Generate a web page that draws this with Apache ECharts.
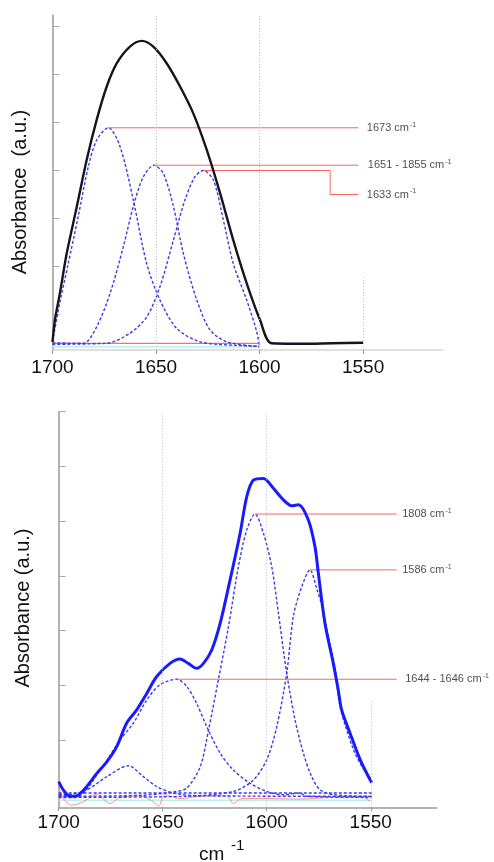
<!DOCTYPE html>
<html>
<head>
<meta charset="utf-8">
<script src="https://cdn.jsdelivr.net/npm/echarts@6/dist/echarts.min.js"></script>
<style>
  html, body { margin: 0; padding: 0; background: #fff; }
  #chart { width: 494px; height: 862px; }
</style>
</head>
<body>
<div id="chart"></div>
<script>
// ---- Upper spectrum (amide I band) : [wavenumber cm-1, absorbance a.u.] ----
const topTotal = [[1700,0.17],[1698.8,0.63],[1696.4,1.19],[1693.1,2.02],[1688.3,2.98],[1683.5,3.96],[1678.7,4.79],[1673.8,5.49],[1669,5.97],[1662.6,6.32],[1656.9,6.44],[1651.3,6.32],[1644.8,5.97],[1638.4,5.49],[1632,4.93],[1625.5,4.17],[1619,3.26],[1612.7,2.29],[1606.2,1.39],[1599.8,0.63],[1594.2,0.14],[1580,0.13],[1565,0.14],[1550,0.15]];
const topBand1673 = [[1700,0.17],[1696.4,1.0],[1692.4,1.8],[1687.5,2.8],[1682.7,3.82],[1678.6,4.38],[1673,4.63],[1667.4,4.24],[1661,3.13],[1654.5,1.8],[1648.1,1.04],[1640,0.45],[1628.7,0.17],[1612.7,0.1],[1600,0.08]];
const topBand1651 = [[1700,0.15],[1685.1,0.14],[1678.6,0.49],[1672.2,1.18],[1665.8,2.15],[1661,2.99],[1656.1,3.61],[1651,3.85],[1646.5,3.68],[1641.6,2.99],[1636.8,2.01],[1630.3,1.04],[1623.9,0.42],[1615.8,0.17],[1600,0.07]];
const topBand1633 = [[1700,0.12],[1673.8,0.14],[1662.6,0.35],[1654.5,0.69],[1648.1,1.32],[1641.6,2.29],[1636,3.13],[1631.2,3.61],[1627.2,3.74],[1622.3,3.54],[1617.5,2.71],[1612.7,1.8],[1606.2,1.04],[1601.5,0.4],[1600,0.07]];
const topBaseRed = [[1700,0.14],[1600,0.14]];
const topBaseCyan = [[1700,0.07],[1600,0.07]];
const topAnnot1673 = [[1673,4.63],[1552.3,4.63]];
const topAnnot1651 = [[1651,3.85],[1552.3,3.85]];
const topAnnot1633 = [[1627.2,3.74],[1565.9,3.74],[1565.9,3.24],[1552.3,3.24]];
const topLabels = ['1673 cm', '1651 - 1855 cm', '1633 cm'];

// ---- Lower spectrum ----
const botTotal = [[1700,0.47],[1697.8,0.32],[1694.6,0.2],[1691.3,0.21],[1686.5,0.38],[1681.7,0.62],[1676.9,0.83],[1672.1,1.11],[1667.3,1.54],[1662.5,1.78],[1657.7,2.08],[1652.9,2.39],[1646.5,2.63],[1641.7,2.71],[1637.7,2.63],[1633.7,2.54],[1630.4,2.63],[1626.4,2.88],[1622.4,3.36],[1617.6,4.16],[1612.8,5.01],[1609.6,5.68],[1606.4,5.98],[1601.6,6.01],[1596.8,5.83],[1592,5.62],[1588,5.51],[1584.8,5.53],[1580,5.25],[1576.8,4.76],[1575.2,4.28],[1572,3.36],[1568,2.63],[1565.6,2.14],[1564,1.78],[1559.9,1.35],[1555.1,0.87],[1550.3,0.5],[1549.5,0.45]];
const botBand1608 = [[1700,0.2],[1660,0.22],[1645,0.28],[1638.5,0.35],[1632,0.74],[1628,1.41],[1623.2,2.34],[1618.4,3.3],[1613.6,4.4],[1609.6,5.07],[1605.6,5.36],[1601.6,5.01],[1597.6,4.4],[1594.4,3.55],[1590.4,2.45],[1586.4,1.6],[1582.4,0.99],[1578.4,0.56],[1574.4,0.32],[1567.9,0.23],[1549.5,0.2]];
const botBand1586 = [[1700,0.18],[1640,0.2],[1616,0.29],[1606.4,0.5],[1600,0.87],[1595.2,1.47],[1590.4,2.45],[1587.2,3.49],[1583.2,4.03],[1579.2,4.34],[1576,4.0],[1573.6,3.7],[1570.4,3.12],[1567.2,2.55],[1564.8,1.85],[1558.3,1.05],[1553.5,0.7],[1549.5,0.5]];
const botBand1644 = [[1700,0.22],[1691.3,0.2],[1680.1,0.68],[1670.5,1.23],[1664.1,1.54],[1657.7,1.96],[1651.3,2.24],[1643.3,2.34],[1638.5,2.21],[1633.7,1.9],[1628.8,1.47],[1622.4,0.99],[1616,0.68],[1608,0.44],[1600,0.29],[1592,0.23],[1584,0.26],[1580.8,0.2],[1549.5,0.18]];
const botBand1670 = [[1700,0.24],[1696.2,0.23],[1686.5,0.32],[1676.9,0.56],[1666.5,0.76],[1659.3,0.56],[1652.9,0.38],[1644.9,0.26],[1632,0.21],[1549.5,0.2]];
const botBaseline = [[1700,0.26],[1549.5,0.26]];
const botResidual = [[1700,0.38],[1697.8,0.16],[1693.8,0.04],[1688.1,0.1],[1681.7,0.24],[1675.3,0.07],[1670.5,0.18],[1660.9,0.21],[1654.5,0.1],[1652.1,0.02],[1648.9,0.23],[1641.7,0.16],[1632,0.2],[1619.2,0.21],[1616,0.07],[1612,0.16],[1600,0.16],[1584,0.15],[1567.9,0.18],[1553.5,0.18],[1550.3,0.1]];
const botBaseCyan = [[1700,0.13],[1549.5,0.13]];
const botAnnot1608 = [[1605.6,5.36],[1537.5,5.36]];
const botAnnot1586 = [[1579.2,4.34],[1537.5,4.34]];
const botAnnot1644 = [[1643.3,2.34],[1537.5,2.34]];
const botLabels = ['1808 cm', '1586 cm', '1644 - 1646 cm'];

// ---- Axis ticks and titles ----
const xTicks = [1700, 1650, 1600, 1550];
const topYTicks = [0.75, 1.75, 2.75, 3.75, 4.75, 5.75, 6.75];
const botYTicks = [1.23, 2.23, 3.23, 4.23, 5.23, 6.23, 7.23];
const topYTitle = 'Absorbance  (a.u.)';
const botYTitle = 'Absorbance (a.u.)';

const FONT = 'Liberation Sans, Arial, sans-serif';
const bandColor = '#3a3ae8';
const annotColor = '#ff6464';

function curve(data, idx, color, width, type, z) {
  return {
    type: 'line', xAxisIndex: idx, yAxisIndex: idx, data: data,
    showSymbol: false, smooth: 0.3, silent: true, z: z || 2,
    lineStyle: { color: color, width: width, type: type || 'solid' }
  };
}

function annotation(data, idx) {
  return {
    type: 'line', xAxisIndex: idx, yAxisIndex: idx, data: data,
    showSymbol: false, silent: true, z: 3,
    lineStyle: { color: annotColor, width: 1 }
  };
}

const supRich = {
  n: { fontSize: 11, color: '#222', fontFamily: FONT, lineHeight: 13 },
  s: { fontSize: 7, color: '#222', fontFamily: FONT, verticalAlign: 'top', lineHeight: 13, padding: [0, 0, 5, 1] }
};

// Text at the right end of each annotation leader line
function labelPoints(annots, texts, idx, offsets) {
  return {
    type: 'scatter', xAxisIndex: idx, yAxisIndex: idx, silent: true, z: 5,
    symbolSize: 1, itemStyle: { color: 'rgba(0,0,0,0)' },
    data: annots.map(function (a, i) {
      const last = a[a.length - 1];
      return {
        value: last,
        label: {
          show: true, position: 'right', distance: offsets[i],
          formatter: '{n|' + texts[i] + '}{s|-1}', rich: supRich
        }
      };
    })
  };
}

function dottedGuides(idx, partialTop) {
  return {
    type: 'line', xAxisIndex: idx, yAxisIndex: idx, data: [], silent: true,
    markLine: {
      silent: true, symbol: ['none', 'none'], label: { show: false },
      lineStyle: { color: '#bdbdbd', width: 1, type: [1, 2] },
      data: [
        { xAxis: 1650 },
        { xAxis: 1600 },
        [{ coord: [1550, 0] }, { coord: [1550, partialTop] }]
      ]
    }
  };
}

function xAxisDef(idx, min, lineColor, margin) {
  return {
    type: 'value', gridIndex: idx, inverse: true, min: min, max: 1700,
    axisLine: { show: true, onZero: false, lineStyle: { color: lineColor, width: 1.5 } },
    axisTick: { show: true, customValues: xTicks, length: 4, lineStyle: { color: '#999' } },
    axisLabel: {
      show: true, customValues: xTicks, fontSize: 19, color: '#111', fontFamily: FONT, margin: margin,
      formatter: function (v) { return String(v); }
    },
    splitLine: { show: false }
  };
}

function yAxisDef(idx, max, ticks) {
  return {
    type: 'value', gridIndex: idx, min: 0, max: max,
    axisLine: { show: true, onZero: false, lineStyle: { color: '#9a9a9a', width: 1.5 } },
    axisTick: { show: true, inside: true, customValues: ticks, length: 7, lineStyle: { color: '#aaa', width: 1 } },
    axisLabel: { show: false },
    splitLine: { show: false }
  };
}

function yTitle(text, x, y) {
  return {
    type: 'text', x: x, y: y, rotation: Math.PI / 2, silent: true,
    style: { text: text, fontSize: 20, fill: '#111', fontFamily: FONT, align: 'center', verticalAlign: 'middle' }
  };
}

const chart = echarts.init(document.getElementById('chart'), null, { renderer: 'canvas' });
chart.setOption({
  animation: false,
  backgroundColor: '#fff',
  grid: [
    { left: 52.5, top: 15, width: 390.5, height: 335 },
    { left: 58.7, top: 411.7, width: 378, height: 395.6 }
  ],
  xAxis: [
    xAxisDef(0, 1511.4, '#d6d6d6', 8),
    xAxisDef(1, 1518.3, '#9a9a9a', 6)
  ],
  yAxis: [
    yAxisDef(0, 6.98, topYTicks),
    yAxisDef(1, 7.23, botYTicks)
  ],
  graphic: [
    yTitle(topYTitle, 20, 192),
    yTitle(botYTitle, 23, 608),
    {
      type: 'text', left: 199, top: 838, silent: true,
      style: {
        text: '{a|cm}  {b|-1}',
        rich: {
          a: { fontSize: 19, fill: '#111', fontFamily: FONT, lineHeight: 26, verticalAlign: 'bottom' },
          b: { fontSize: 15, fill: '#111', fontFamily: FONT, lineHeight: 26, verticalAlign: 'top' }
        }
      }
    }
  ],
  series: [
    dottedGuides(0, 1.52),
    curve(topBaseCyan, 0, '#b8f0f4', 1.5),
    curve(topBaseRed, 0, '#ff6a6a', 1.2),
    curve(topBand1673, 0, bandColor, 1.4, [3, 2]),
    curve(topBand1651, 0, bandColor, 1.4, [3, 2]),
    curve(topBand1633, 0, bandColor, 1.4, [3, 2]),
    curve(topTotal, 0, '#15151f', 2.4, 'solid', 4),
    annotation(topAnnot1673, 0),
    annotation(topAnnot1651, 0),
    annotation(topAnnot1633, 0),
    labelPoints([topAnnot1673, topAnnot1651, topAnnot1633], topLabels, 0, [8, 9, 8]),

    dottedGuides(1, 1.96),
    curve(botBaseCyan, 1, '#b8f0f4', 1.5),
    curve(botResidual, 1, '#ff8080', 0.9),
    curve(botBaseline, 1, bandColor, 1.4, [3, 2]),
    curve(botBand1670, 1, bandColor, 1.4, [3, 2]),
    curve(botBand1644, 1, bandColor, 1.4, [3, 2]),
    curve(botBand1608, 1, bandColor, 1.4, [3, 2]),
    curve(botBand1586, 1, bandColor, 1.4, [3, 2]),
    curve(botTotal, 1, '#1a1aff', 3, 'solid', 4),
    annotation(botAnnot1608, 1),
    annotation(botAnnot1586, 1),
    annotation(botAnnot1644, 1),
    labelPoints([botAnnot1608, botAnnot1586, botAnnot1644], botLabels, 1, [5, 5, 8])
  ]
});
</script>
</body>
</html>
